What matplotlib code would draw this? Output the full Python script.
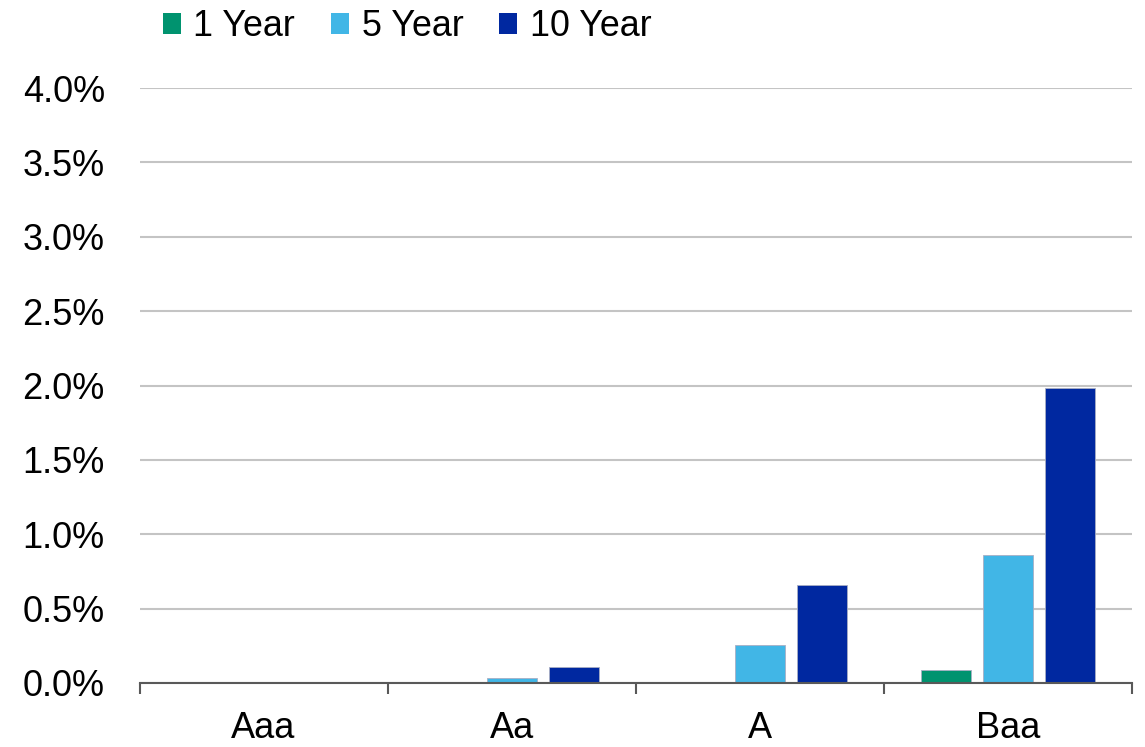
import matplotlib
matplotlib.use("Agg")
import matplotlib.pyplot as plt
from matplotlib.patches import Patch
import numpy as np

# Cumulative default rates by rating and horizon
ratings = ["Aaa", "Aa", "A", "Baa"]
series_names = ["1 Year", "5 Year", "10 Year"]
one_year = [0.0, 0.0, 0.0, 0.087]
five_year = [0.0, 0.036, 0.253, 0.863]
ten_year = [0.0, 0.106, 0.659, 1.982]
y_ticks = [0.0, 0.5, 1.0, 1.5, 2.0, 2.5, 3.0, 3.5, 4.0]

colors = ["#00936F", "#41B6E6", "#0028A0"]

plt.rcParams["font.family"] = ["Liberation Sans", "DejaVu Sans"]

fig = plt.figure(figsize=(11.45, 7.47), dpi=100)
ax = fig.add_axes([139.5 / 1145, 64 / 747, (1132 - 139.5) / 1145, (683 - 88) / 747])

x = np.arange(len(ratings))
width = 0.2
offsets = [-0.25, 0.0, 0.25]
for vals, off, col in zip([one_year, five_year, ten_year], offsets, colors):
    ax.bar(x + off, vals, width=width, color=col, edgecolor="#A8AEC4",
           linewidth=0.6, zorder=2)

ax.set_xlim(-0.5, len(ratings) - 0.5)
ax.set_ylim(0, 4.0)

# y axis: gridlines and percent labels, no spine or ticks
ax.set_yticks(y_ticks)
ax.set_yticklabels([f"{v:.1f}%" for v in y_ticks])
ax.tick_params(axis="y", length=0, pad=25, labelsize=26)
ax.yaxis.grid(True, color="#C4C4C4", linewidth=1.5, zorder=0)
ax.set_axisbelow(True)

# x axis: ticks at category boundaries, labels centred in each category
ax.set_xticks(np.arange(-0.5, len(ratings), 1.0))
ax.set_xticklabels([])
ax.set_xticks(x, minor=True)
ax.set_xticklabels(ratings, minor=True)
ax.tick_params(axis="x", which="major", direction="out", length=8,
               width=1.5, color="#595959")
ax.tick_params(axis="x", which="minor", length=0, pad=20, labelsize=26)

for side in ["left", "right", "top"]:
    ax.spines[side].set_visible(False)
ax.spines["bottom"].set_color("#595959")
ax.spines["bottom"].set_linewidth(1.5)
ax.spines["bottom"].set_zorder(3)

handles = [Patch(facecolor=c, edgecolor="none") for c in colors]
fig.legend(handles, series_names, loc="upper left",
           bbox_to_anchor=(163 / 1145, 1 - 9 / 747), ncol=3, frameon=False,
           fontsize=25.8, handlelength=0.51, handleheight=0.51,
           handletextpad=0.34, columnspacing=1.0, borderpad=0,
           borderaxespad=0)

fig.savefig("out.png", dpi=100)
